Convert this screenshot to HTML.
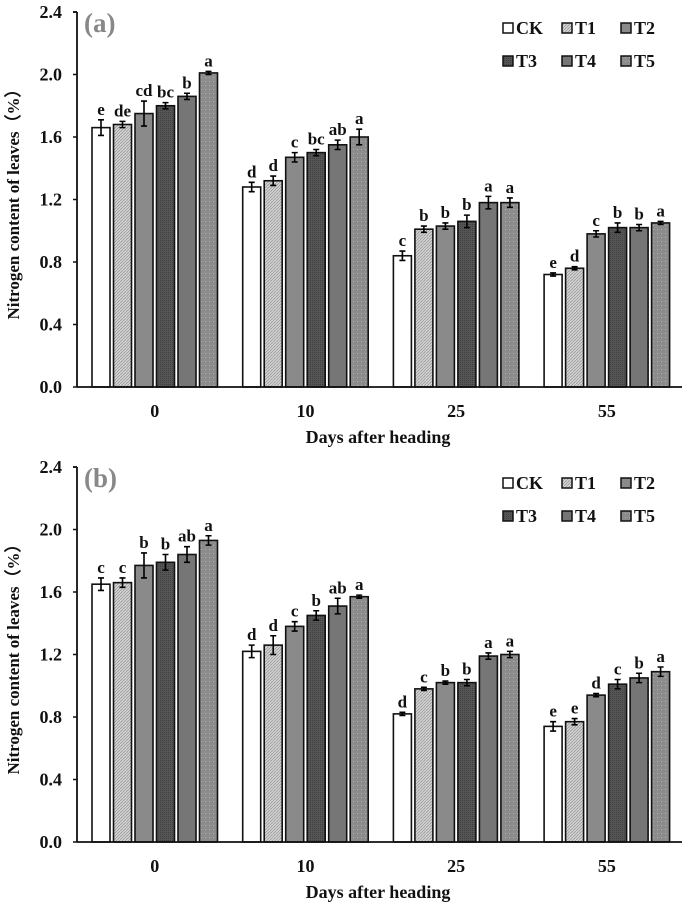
<!DOCTYPE html>
<html><head><meta charset="utf-8"><style>
body{margin:0;background:#fff}
svg{display:block;font-family:"Liberation Serif",serif;font-weight:bold}
</style></head><body>
<svg id="chart" width="685" height="923" viewBox="0 0 685 923" xmlns="http://www.w3.org/2000/svg">
<defs>
<pattern id="pT1" width="3" height="3" patternUnits="userSpaceOnUse"><rect width="3" height="3" fill="#d4d4d4"/><path d="M0 3L3 0" stroke="#999" stroke-width="0.8"/></pattern>
<pattern id="pT2" width="4" height="4" patternUnits="userSpaceOnUse"><rect width="4" height="4" fill="#8a8a8a"/></pattern>
<pattern id="pT3" width="2" height="2" patternUnits="userSpaceOnUse"><rect width="2" height="2" fill="#555"/><rect width="1" height="1" fill="#3f3f3f"/></pattern>
<pattern id="pT4" width="4" height="4" patternUnits="userSpaceOnUse"><rect width="4" height="4" fill="#767676"/></pattern>
<pattern id="pT5" width="4" height="4" patternUnits="userSpaceOnUse"><rect width="4" height="4" fill="#8c8c8c"/><rect x="1" y="1" width="1" height="1" fill="#b0b0b0"/></pattern>
</defs>
</svg>
<script>
const categories = ["0","10","25","55"];
const series = ["CK","T1","T2","T3","T4","T5"];
const yTicks = [0,0.4,0.8,1.2,1.6,2.0,2.4];
const aValues = [[1.66,1.68,1.75,1.80,1.86,2.01],[1.28,1.32,1.47,1.50,1.55,1.60],[0.84,1.01,1.03,1.06,1.18,1.18],[0.72,0.76,0.98,1.02,1.02,1.05]];
const aErrors = [[0.05,0.02,0.08,0.02,0.02,0.01],[0.03,0.03,0.03,0.02,0.03,0.05],[0.03,0.02,0.02,0.04,0.04,0.03],[0.01,0.01,0.02,0.03,0.02,0.01]];
const aLetters = [["e","de","cd","bc","b","a"],["d","d","c","bc","ab","a"],["c","b","b","b","a","a"],["e","d","c","b","b","a"]];
const bValues = [[1.65,1.66,1.77,1.79,1.84,1.93],[1.22,1.26,1.38,1.45,1.51,1.57],[0.82,0.98,1.02,1.02,1.19,1.20],[0.74,0.77,0.94,1.01,1.05,1.09]];
const bErrors = [[0.04,0.03,0.08,0.05,0.05,0.03],[0.04,0.06,0.03,0.03,0.05,0.01],[0.01,0.01,0.01,0.02,0.02,0.02],[0.03,0.02,0.01,0.03,0.03,0.03]];
const bLetters = [["c","c","b","b","ab","a"],["d","d","c","b","ab","a"],["d","c","b","b","a","a"],["e","e","d","c","b","a"]];
const fills = ["#fff","url(#pT1)","url(#pT2)","url(#pT3)","url(#pT4)","url(#pT5)"];

const svg = document.getElementById('chart');
const NS = "http://www.w3.org/2000/svg";
function mk(tag, attrs, parent){const e=document.createElementNS(NS,tag);for(const k in attrs)e.setAttribute(k,attrs[k]);(parent||svg).appendChild(e);return e;}

function panel(key, top, values, errors, letters){
  const base = top + 375, yMax = 2.4;
  const y = v => base - v/yMax*375;
  const x0 = 77, groupStart = 92, groupPitch = 150.7, barPitch = 21.5, barW = 18;
  const g = mk('g', {});
  
  
  categories.forEach((c, ci) => {
    series.forEach((s, si) => {
      const v = values[ci][si], e = errors[ci][si];
      const bx = groupStart + ci*groupPitch + si*barPitch;
      const r = mk('rect', {x:bx, y:y(v), width:barW, height:base-y(v), fill:fills[si], stroke:'#111', 'stroke-width':1.6}, g);
      
      
      const cx = bx + barW/2;
      const eb = mk('path', {d:`M${cx} ${y(v+e)}V${y(v-e)}M${cx-3} ${y(v+e)}H${cx+3}M${cx-3} ${y(v-e)}H${cx+3}`, stroke:'#000', 'stroke-width':1.6, fill:'none'}, g);
      
      
      const t = mk('text', {x:cx, y:y(v+e)-5, 'text-anchor':'middle', 'font-size':17, fill:'#111'}, g);
      t.textContent = letters[ci][si];
      
      
    });
    const tl = mk('text', {x:groupStart + ci*groupPitch + 2.5*barPitch + barW/2, y:base+30, 'text-anchor':'middle', 'font-size':18, fill:'#111'}, g);
    tl.textContent = c;
    
    
  });
  const ax = mk('path', {d:`M${x0} ${top}V${base}M${x0-4} ${top}H${x0}M${x0} ${base}H682`, stroke:'#111', 'stroke-width':1.8, fill:'none'}, g);
  
  
  yTicks.forEach(tv => {
    mk('line', {x1:x0-4, x2:x0, y1:y(tv), y2:y(tv), stroke:'#111', 'stroke-width':1.5}, g);
    const t = mk('text', {x:x0-15, y:y(tv)+6, 'text-anchor':'end', 'font-size':18, fill:'#111'}, g);
    t.textContent = tv.toFixed(1);
    
    
  });
  const xt = mk('text', {x:378, y:base+56, 'text-anchor':'middle', 'font-size':18, fill:'#111'}, g);
  xt.textContent = 'Days after heading';
  
  
  const yt = mk('text', {x:0, y:0, 'text-anchor':'middle', 'font-size':17, fill:'#111', transform:`translate(19 ${top+188}) rotate(-90)`}, g);
  yt.textContent = 'Nitrogen content of  leaves（%）';
  
  
  const pl = mk('text', {x:84, y:top+20, 'font-size':27, fill:'#888'}, g);
  pl.textContent = '(' + key + ')';
  
  
  series.forEach((s, si) => {
    const lx = 504 + (si%3)*59, ly = top + 16 + Math.floor(si/3)*33;
    mk('rect', {x:lx-1, y:ly-5, width:10, height:10, fill:fills[si], stroke:'#111', 'stroke-width':1.5}, g);
    const t = mk('text', {x:lx+12, y:ly+6, 'font-size':18, fill:'#111'}, g);
    t.textContent = s;
    
    
  });
}
panel('a', 12, aValues, aErrors, aLetters);
panel('b', 467, bValues, bErrors, bLetters);
</script>
</body></html>
